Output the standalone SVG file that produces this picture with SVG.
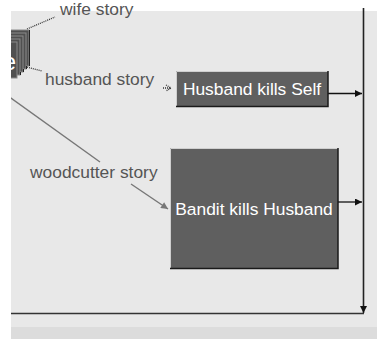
<svg xmlns="http://www.w3.org/2000/svg" width="377" height="339" viewBox="0 0 377 339">
<style>
.lbl{font-family:"Liberation Sans",Arial,sans-serif;font-size:17.4px;fill:#555}
.ntx{font-family:"Liberation Sans",Arial,sans-serif;font-size:17.4px;fill:#fff;text-anchor:middle}
.box{fill:#5f5f5f}
.hi{stroke:#cfcfcf;stroke-width:1;fill:none}
.sh{stroke:#1a1a1a;stroke-width:1.5;fill:none}
.page{fill:#505050;stroke:#8a8a8a;stroke-width:1}
.edge{stroke:#222;stroke-width:1;fill:none}
.dot{stroke:#333;stroke-width:1.3;stroke-dasharray:1 1;fill:none}
.flow{stroke:#111;stroke-width:1.3;fill:none}
</style>
<defs>
<clipPath id="clip"><rect x="11" y="8" width="366" height="331"/></clipPath>
<marker id="ah" viewBox="0 0 10 10" refX="10" refY="5" markerWidth="9" markerHeight="7" markerUnits="userSpaceOnUse" orient="auto"><path d="M0,0 L10,5 L0,10 z" fill="#111"/></marker>
<marker id="ahg" viewBox="0 0 10 10" refX="10" refY="5" markerWidth="9" markerHeight="7" markerUnits="userSpaceOnUse" orient="auto"><path d="M0,0 L10,5 L0,10 z" fill="#777"/></marker>
</defs>
<rect width="377" height="339" fill="#fff"/>
<rect x="11" y="11" width="366" height="316" fill="#e8e8e8"/>
<rect x="11" y="327" width="366" height="12" fill="#dcdcdc"/>
<text class="lbl" x="60" y="15">wife story</text>
<g clip-path="url(#clip)">
<g id="connectors">
<path class="dot" d="M27,29 L55,17"/>
<path class="dot" d="M27,67 L42,71"/>
<path class="dot" d="M163,88 H171"/>
<path class="dot" d="M166,85 L171,88 L166,91"/>
<path d="M4,93 L100,162" stroke="#777" stroke-width="1.4" fill="none"/>
<path d="M131,184 L168,209" stroke="#777" stroke-width="1.4" fill="none" marker-end="url(#ahg)"/>
<path class="flow" d="M328,93.5 H362" marker-end="url(#ah)"/>
<path class="flow" d="M338,202 H362" marker-end="url(#ah)"/>
<path d="M363.5,0 V313" stroke="#222" stroke-width="1.6" fill="none" marker-end="url(#ah)"/>
<path d="M11,313.5 H364" stroke="#333" stroke-width="1.6" fill="none"/>
</g>
<g id="stack">
<rect class="page" x="-40" y="30" width="69" height="36"/>
<rect class="page" x="-40" y="33" width="66" height="36"/>
<rect class="page" x="-40" y="36" width="63" height="36"/>
<rect class="page" x="-40" y="39" width="60" height="36"/>
<rect class="page" x="-40" y="42" width="57" height="36" fill="#5a5a5a"/>
<path class="edge" d="M29.5,30 V66 M26.5,66 V69 M23.5,69 V72 M20.5,72 V75"/>
<text x="16" y="70" font-family="'Liberation Sans',Arial,sans-serif" font-size="24" fill="#fff" text-anchor="end">e</text>
</g>
<text class="lbl" x="45" y="85">husband story</text>
<text class="lbl" x="30" y="178">woodcutter story</text>
<g id="husband-kills-self">
<rect class="box" x="176" y="71" width="152" height="36"/>
<path class="hi" d="M176.5,107 V71.5 H328"/>
<path class="sh" d="M176,106.5 H328 V71"/>
<text class="ntx" x="252" y="94.5">Husband kills Self</text>
</g>
<g id="bandit-kills-husband">
<rect class="box" x="170" y="148" width="168" height="121"/>
<path class="hi" d="M170.5,269 V148.5 H338"/>
<path class="sh" d="M170,268.5 H338 V148"/>
<text class="ntx" x="254" y="215">Bandit kills Husband</text>
</g>
</g>
</svg>
